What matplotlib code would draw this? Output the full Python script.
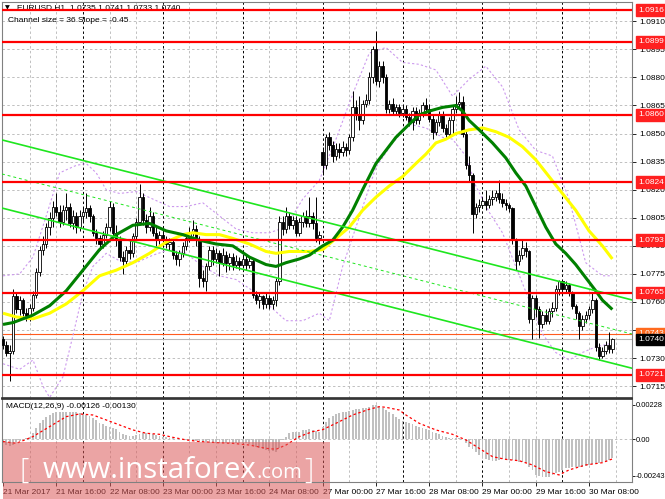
import matplotlib
matplotlib.use("Agg")
import matplotlib.pyplot as plt
import matplotlib.transforms as mtransforms
from matplotlib.patches import Rectangle
import numpy as np

plt.rcParams['font.family'] = ['Liberation Sans', 'DejaVu Sans']

# ---------------- data ----------------
opens = [1.0740,1.0737,1.0733,1.0734,1.0763,1.0756,1.0761,1.0754,1.0752,1.0757,
         1.0764,1.0776,1.0788,1.0791,1.0800,1.0805,1.0811,1.0808,1.0803,1.0809,
         1.0811,1.0802,1.0806,1.0800,1.0806,1.0808,1.0810,1.0806,1.0797,1.0794,
         1.0791,1.0796,1.0800,1.0811,1.0797,1.0793,1.0784,1.0782,1.0788,1.0786,
         1.0795,1.0803,1.0816,1.0804,1.0800,1.0806,1.0797,1.0793,1.0796,1.0793,
         1.0791,1.0792,1.0785,1.0783,1.0786,1.0790,1.0794,1.0797,1.0799,1.0793,
         1.0773,1.0771,1.0779,1.0788,1.0783,1.0786,1.0781,1.0785,1.0781,1.0784,
         1.0780,1.0782,1.0780,1.0783,1.0780,1.0782,1.0764,1.0761,1.0763,1.0759,
         1.0762,1.0759,1.0761,1.0771,1.0803,1.0799,1.0806,1.0801,1.0804,1.0797,
         1.0803,1.0806,1.0802,1.0806,1.0802,1.0794,1.0840,1.0833,1.0848,1.0844,
         1.0838,1.0842,1.0840,1.0843,1.0841,1.0848,1.0864,1.0860,1.0857,1.0866,
         1.0868,1.0880,1.0895,1.0878,1.0886,1.0880,1.0863,1.0866,1.0862,1.0864,
         1.0861,1.0863,1.0859,1.0856,1.0862,1.0857,1.0861,1.0865,1.0863,1.0858,
         1.0851,1.0856,1.0860,1.0853,1.0850,1.0857,1.0863,1.0866,1.0867,1.0850,
         1.0833,1.0828,1.0807,1.0811,1.0812,1.0814,1.0812,1.0815,1.0816,1.0818,
         1.0815,1.0813,1.0812,1.0810,1.0793,1.0782,1.0785,1.0789,1.0787,1.0751,
         1.0762,1.0756,1.0748,1.0753,1.0750,1.0755,1.0757,1.0767,1.0771,1.0767,
         1.0769,1.0765,1.0758,1.0754,1.0747,1.0751,1.0753,1.0756,1.0761,1.0736,
         1.0731,1.0734,1.0737,1.0735]
highs = [1.0742,1.0739,1.0737,1.0767,1.0765,1.0763,1.0762,1.0757,1.0759,1.0766,
         1.0778,1.0790,1.0795,1.0802,1.0808,1.0814,1.0818,1.0812,1.0812,1.0818,
         1.0813,1.0809,1.0808,1.0809,1.0811,1.0818,1.0812,1.0807,1.0799,1.0796,
         1.0798,1.0802,1.0814,1.0813,1.0801,1.0795,1.0787,1.0790,1.0793,1.0797,
         1.0805,1.0823,1.0818,1.0807,1.0811,1.0808,1.0800,1.0798,1.0798,1.0795,
         1.0794,1.0793,1.0787,1.0788,1.0792,1.0796,1.0800,1.0804,1.0801,1.0795,
         1.0777,1.0781,1.0790,1.0790,1.0789,1.0788,1.0789,1.0787,1.0786,1.0786,
         1.0785,1.0784,1.0785,1.0785,1.0784,1.0783,1.0766,1.0765,1.0764,1.0765,
         1.0764,1.0763,1.0773,1.0806,1.0806,1.0811,1.0808,1.0806,1.0806,1.0805,
         1.0808,1.0809,1.0816,1.0808,1.0816,1.0798,1.0843,1.0850,1.0851,1.0846,
         1.0845,1.0845,1.0846,1.0845,1.0850,1.0873,1.0868,1.0870,1.0868,1.0871,
         1.0883,1.0897,1.0905,1.0889,1.0889,1.0882,1.0868,1.0869,1.0866,1.0866,
         1.0865,1.0865,1.0861,1.0864,1.0864,1.0863,1.0867,1.0869,1.0866,1.0860,
         1.0858,1.0862,1.0862,1.0855,1.0859,1.0865,1.0870,1.0872,1.0870,1.0852,
         1.0838,1.0829,1.0813,1.0815,1.0816,1.0820,1.0817,1.0820,1.0820,1.0825,
         1.0818,1.0815,1.0813,1.0811,1.0794,1.0788,1.0793,1.0792,1.0788,1.0764,
         1.0764,1.0758,1.0755,1.0756,1.0757,1.0760,1.0769,1.0772,1.0772,1.0771,
         1.0770,1.0766,1.0759,1.0755,1.0753,1.0755,1.0758,1.0765,1.0762,1.0738,
         1.0736,1.0739,1.0744,1.0741]
lows = [1.0735,1.0731,1.0718,1.0732,1.0754,1.0753,1.0751,1.0750,1.0750,1.0755,
        1.0762,1.0774,1.0785,1.0789,1.0796,1.0800,1.0806,1.0800,1.0801,1.0804,
        1.0800,1.0799,1.0797,1.0798,1.0803,1.0805,1.0803,1.0795,1.0791,1.0788,
        1.0789,1.0794,1.0798,1.0795,1.0790,1.0782,1.0775,1.0780,1.0783,1.0784,
        1.0793,1.0801,1.0801,1.0797,1.0798,1.0795,1.0790,1.0791,1.0790,1.0789,
        1.0788,1.0783,1.0780,1.0779,1.0784,1.0788,1.0792,1.0795,1.0790,1.0768,
        1.0768,1.0766,1.0777,1.0780,1.0781,1.0774,1.0779,1.0776,1.0777,1.0777,
        1.0778,1.0777,1.0778,1.0777,1.0778,1.0762,1.0759,1.0757,1.0756,1.0757,
        1.0756,1.0756,1.0758,1.0769,1.0796,1.0797,1.0799,1.0799,1.0795,1.0795,
        1.0800,1.0800,1.0800,1.0799,1.0792,1.0791,1.0828,1.0831,1.0841,1.0835,
        1.0836,1.0837,1.0838,1.0838,1.0839,1.0846,1.0857,1.0852,1.0855,1.0864,
        1.0866,1.0877,1.0876,1.0875,1.0877,1.0861,1.0861,1.0860,1.0860,1.0859,
        1.0859,1.0857,1.0854,1.0852,1.0855,1.0855,1.0859,1.0861,1.0856,1.0847,
        1.0849,1.0854,1.0851,1.0847,1.0848,1.0850,1.0861,1.0863,1.0848,1.0831,
        1.0824,1.0797,1.0805,1.0808,1.0810,1.0809,1.0810,1.0812,1.0814,1.0813,
        1.0811,1.0809,1.0808,1.0791,1.0777,1.0780,1.0783,1.0784,1.0749,1.0740,
        1.0752,1.0741,1.0746,1.0748,1.0748,1.0752,1.0755,1.0764,1.0765,1.0765,
        1.0763,1.0756,1.0751,1.0740,1.0745,1.0749,1.0751,1.0754,1.0734,1.0729,
        1.0730,1.0732,1.0733,1.0733]
closes = [1.0737,1.0733,1.0734,1.0763,1.0756,1.0761,1.0754,1.0752,1.0757,1.0764,
          1.0776,1.0788,1.0791,1.0800,1.0805,1.0811,1.0808,1.0803,1.0809,1.0811,
          1.0802,1.0806,1.0800,1.0806,1.0808,1.0810,1.0806,1.0797,1.0794,1.0791,
          1.0796,1.0800,1.0811,1.0797,1.0793,1.0784,1.0782,1.0788,1.0786,1.0795,
          1.0803,1.0816,1.0804,1.0800,1.0806,1.0797,1.0793,1.0796,1.0793,1.0791,
          1.0792,1.0785,1.0783,1.0786,1.0790,1.0794,1.0797,1.0799,1.0793,1.0773,
          1.0771,1.0779,1.0788,1.0783,1.0786,1.0781,1.0785,1.0781,1.0784,1.0780,
          1.0782,1.0780,1.0783,1.0780,1.0782,1.0764,1.0761,1.0763,1.0759,1.0762,
          1.0759,1.0761,1.0771,1.0803,1.0799,1.0806,1.0801,1.0804,1.0797,1.0803,
          1.0806,1.0802,1.0806,1.0802,1.0794,1.0796,1.0833,1.0848,1.0844,1.0838,
          1.0842,1.0840,1.0843,1.0841,1.0848,1.0864,1.0860,1.0857,1.0866,1.0868,
          1.0880,1.0895,1.0878,1.0886,1.0880,1.0863,1.0866,1.0862,1.0864,1.0861,
          1.0863,1.0859,1.0856,1.0862,1.0857,1.0861,1.0865,1.0863,1.0858,1.0851,
          1.0856,1.0860,1.0853,1.0850,1.0857,1.0863,1.0866,1.0867,1.0850,1.0833,
          1.0828,1.0807,1.0811,1.0812,1.0814,1.0812,1.0815,1.0816,1.0818,1.0815,
          1.0813,1.0812,1.0810,1.0793,1.0782,1.0785,1.0789,1.0787,1.0751,1.0762,
          1.0756,1.0748,1.0753,1.0750,1.0755,1.0757,1.0767,1.0771,1.0767,1.0769,
          1.0765,1.0758,1.0754,1.0747,1.0751,1.0753,1.0756,1.0761,1.0736,1.0731,
          1.0734,1.0737,1.0735,1.0740]

green_ma_x = [0,3,9,14,19,24,29,34,39,44,49,54,59,64,69,74,79,82,85,89,92,96,99,102,105,108,110,
              112,115,118,122,125,128,132,136,138,140,143,147,151,154,157,160,163,166,169,172,175,178,180,183]
green_ma = [1.0748,1.0749,1.0753,1.0758,1.0766,1.0777,1.0788,1.0796,1.0801,1.0802,1.0798,1.0796,
            1.0793,1.0791,1.0790,1.0784,1.0780,1.0779,1.0781,1.0783,1.0785,1.0790,1.0793,1.0800,
            1.0809,1.0820,1.0827,1.0834,1.0841,1.0848,1.0855,1.0860,1.0862,1.0864,1.0865,1.0862,
            1.0857,1.0852,1.0845,1.0837,1.0829,1.0822,1.0811,1.0800,1.0791,1.0786,1.0780,1.0773,
            1.0766,1.0761,1.0756]
yellow_ma_x = [0,4,9,14,19,24,29,34,39,44,49,54,57,61,65,69,74,79,82,86,92,96,100,104,108,112,116,
               120,124,127,130,133,136,140,144,148,152,156,160,164,168,172,176,180,183]
yellow_ma = [1.0754,1.0752,1.0751,1.0754,1.0759,1.0766,1.0774,1.0777,1.0781,1.0786,1.0792,1.0796,
             1.0797,1.0796,1.0796,1.0794,1.0791,1.0787,1.0786,1.0787,1.0787,1.0788,1.0794,1.0800,
             1.0809,1.0816,1.0822,1.0827,1.0834,1.0839,1.0845,1.0847,1.0850,1.0852,1.0853,1.0851,
             1.0848,1.0843,1.0836,1.0827,1.0818,1.0809,1.0798,1.0790,1.0783]

band_up_x = [0,5,9,13,17,22,25,28,31,35,40,45,50,55,60,65,70,75,80,85,90,95,100,105,110,115,120,
             125,130,135,140,145,150,155,160,165,170,175,180,183]
band_up = [1.0774,1.0775,1.0784,1.0806,1.0829,1.0833,1.0834,1.0829,1.0820,1.0818,1.0819,1.0815,
           1.0811,1.0811,1.0813,1.0806,1.0799,1.0797,1.0797,1.0800,1.0815,1.0825,1.0847,1.0871,
           1.0893,1.0896,1.0888,1.0887,1.0884,1.0870,1.0879,1.0886,1.0875,1.0852,1.0841,1.0838,
           1.0815,1.0781,1.0774,1.0774]
band_lo_x = [0,5,9,12,14,18,21,24,27,31,35,40,45,50,55,60,65,70,75,80,85,90,95,98,102,106,112,117,
             122,127,132,135,139,142,146,150,154,158,162,166,170,174,178,183]
band_lo = [1.0727,1.0724,1.0729,1.0715,1.0709,1.0720,1.0742,1.0765,1.0779,1.0786,1.0782,1.0781,
           1.0785,1.0788,1.0786,1.0779,1.0774,1.0772,1.0766,1.0758,1.0750,1.0750,1.0754,1.0750,
           1.0779,1.0800,1.0832,1.0845,1.0855,1.0853,1.0848,1.0847,1.0838,1.0822,1.0808,1.0797,
           1.0779,1.0761,1.0743,1.0733,1.0729,1.0733,1.0736,1.0738]

channel_x = [-0.3, 188.9]
channel_upper = [1.08466, 1.07611]
channel_middle = [1.08284, 1.07429]
channel_lower = [1.08102, 1.07246]

levels = [1.0916, 1.0899, 1.0860, 1.0824, 1.0793, 1.0765, 1.0721]
level_labels = ["1.0916", "1.0899", "1.0860", "1.0824", "1.0793", "1.0765", "1.0721"]
price_ticks = [1.0910, 1.0895, 1.0880, 1.0865, 1.0850, 1.0835, 1.0820, 1.0805,
               1.0790, 1.0775, 1.0760, 1.0745, 1.0730, 1.0715]
price_tick_labels = ["1.0910", "1.0895", "1.0880", "1.0865", "1.0850", "1.0835", "1.0820",
                     "1.0805", "1.0790", "1.0775", "1.0760", "1.0745", "1.0730", "1.0715"]
bid_price = 1.0740
ask_level = 1.0743

macd_hist_e5 = [-27,-38,-44,-38,-15,-10,4,10,18,40,73,106,128,146,161,172,180,183,184,184,
                183,183,180,177,170,163,155,142,128,110,100,88,82,75,66,48,36,26,22,24,
                29,38,44,44,40,33,29,22,18,12,9,7,2,0,-3,-5,-8,-10,-12,-15,
                -17,-20,-22,-24,-27,-22,-24,-25,-27,-25,-24,-27,-22,-25,-30,-38,-49,-58,-66,-71,
                -75,-80,-82,-60,-4,18,44,48,46,51,62,64,66,62,55,51,84,117,139,155,
                168,177,181,183,190,194,199,203,206,208,212,228,230,221,206,194,183,168,150,133,
                121,113,106,99,90,79,73,66,62,51,40,33,24,18,11,7,11,7,0,-27,
                -49,-66,-82,-104,-122,-133,-137,-142,-142,-137,-133,-133,-137,-137,-142,-148,-153,-159,-181,-203,
                -236,-243,-252,-252,-247,-236,-225,-214,-203,-192,-188,-186,-186,-186,-181,-177,-170,-164,-159,-155,
                -150,-148,-135,-126]
signal_x = [0,4,9,14,19,23,27,31,35,39,43,47,51,55,59,64,69,74,79,82,85,89,93,96,100,105,110,
            113,115,119,121,125,130,135,139,143,147,151,155,159,163,167,170,175,180,183]
signal_e5 = [-15,-27,18,84,150,168,161,128,95,62,40,33,13,-4,-15,-22,-27,-38,-60,-66,-38,18,51,
             64,106,161,199,216,212,194,161,106,62,33,-4,-60,-115,-133,-142,-170,-214,-236,-203,
             -170,-155,-130]
macd_ticks = [0.00228, 0.0, -0.00243]
macd_tick_labels = ["0.00228", "0.00", "-0.00243"]

time_tick_bars = [0, 16, 32, 48, 64, 80, 96, 112, 128, 144, 160, 176]
time_tick_labels = ["21 Mar 2017", "21 Mar 16:00", "22 Mar 08:00", "23 Mar 00:00",
                    "23 Mar 16:00", "24 Mar 08:00", "27 Mar 00:00", "27 Mar 16:00",
                    "28 Mar 08:00", "29 Mar 00:00", "29 Mar 16:00", "30 Mar 08:00"]

# ---------------- figure ----------------
W, H = 665, 499
fig = plt.figure(figsize=(W / 100, H / 100), dpi=100)
fig.patch.set_facecolor("white")

def fx(px):
    return px / W

def fy(py):
    return 1 - py / H

ax = fig.add_axes([fx(2), fy(398), fx(632) - fx(2), fy(2) - fy(398)])
axm = fig.add_axes([fx(2), fy(482), fx(632) - fx(2), fy(399) - fy(482)], sharex=ax)

n = len(closes)
x = np.arange(n)
o = np.array(opens); h = np.array(highs); l = np.array(lows); c = np.array(closes)

XMIN, XMAX = -0.3, 188.9
ax.set_xlim(XMIN, XMAX)
ax.set_ylim(1.07087, 1.09203)
axm.set_ylim(-0.00283, 0.00267)

grey = "#c0c0c0"
for a in (ax, axm):
    for b in range(8, int(XMAX) + 1, 8):
        if b % 24 == 0:
            a.axvline(b, color="black", lw=0.7, ls=(0, (2.5, 2.5)), zorder=0.6)
        else:
            a.axvline(b, color=grey, lw=0.7, ls=(0, (2.5, 2.5)), zorder=0.5)
for t in price_ticks:
    ax.axhline(t, color=grey, lw=0.7, ls=(0, (2.5, 2.5)), zorder=0.5)
axm.axhline(0, color=grey, lw=0.7, ls=(0, (2.5, 2.5)), zorder=0.5)

# bid / ask lines
ax.axhline(bid_price, color="#b8b8b8", lw=0.8, zorder=1)
ax.axhline(ask_level, color="#ff5a1e", lw=0.8, zorder=1)

# bands
ax.plot(band_up_x, band_up, color="#cc99ee", lw=0.8, ls=(0, (2, 2)), zorder=1.5)
ax.plot(band_lo_x, band_lo, color="#cc99ee", lw=0.8, ls=(0, (2, 2)), zorder=1.5)

# candles
up = c >= o
ax.vlines(x, l, h, color="black", lw=0.7, zorder=3)
body_lo = np.minimum(o, c)
body_h = np.maximum(np.abs(c - o), 0.00004)
ax.bar(x[up], body_h[up], bottom=body_lo[up], width=0.72, color="white",
       edgecolor="black", linewidth=0.6, zorder=3.2)
ax.bar(x[~up], body_h[~up], bottom=body_lo[~up], width=0.72, color="black",
       edgecolor="black", linewidth=0.6, zorder=3.2)

# moving averages
ax.plot(yellow_ma_x, yellow_ma, color="#ffff00", lw=2.2, zorder=4, solid_capstyle="butt")
ax.plot(green_ma_x, green_ma, color="#008000", lw=2.2, zorder=4.1, solid_capstyle="butt")

# channel
ax.plot(channel_x, channel_upper, color="#1ee61e", lw=1.2, zorder=5)
ax.plot(channel_x, channel_lower, color="#1ee61e", lw=1.2, zorder=5)
ax.plot(channel_x, channel_middle, color="#1ee61e", lw=0.7, ls=(0, (3, 3)), zorder=5)

# horizontal levels
for lv in levels:
    ax.axhline(lv, color="#ff0000", lw=1.6, zorder=5.5)

# header text (under the level lines)
ax.text(fx(5), fy(8), "\u25bc", transform=fig.transFigure, fontsize=4.5, va="center",
        ha="left", zorder=5, family=["DejaVu Sans"])
ax.text(fx(17), fy(8), "EURUSD,H1  1.0735 1.0741 1.0733 1.0740", transform=fig.transFigure,
        fontsize=6, va="center", ha="left", zorder=5)
ax.text(fx(8), fy(20), "Channel size = 36 Slope = -0.45", transform=fig.transFigure,
        fontsize=6, va="center", ha="left", zorder=5)

# axes styling
for a in (ax, axm):
    for s in a.spines.values():
        s.set_color("#808080")
        s.set_linewidth(0.8)
ax.spines["bottom"].set_color("#303030")
ax.spines["bottom"].set_linewidth(1.2)
axm.spines["top"].set_color("#303030")
axm.spines["top"].set_linewidth(1.2)

ax.yaxis.tick_right()
ax.set_yticks(price_ticks)
ax.set_yticklabels(price_tick_labels)
ax.tick_params(axis="y", direction="out", length=3, width=0.6, pad=2, labelsize=6, colors="black")
ax.tick_params(axis="x", bottom=False, labelbottom=False)

axm.yaxis.tick_right()
axm.set_yticks(macd_ticks)
axm.set_yticklabels(macd_tick_labels)
axm.tick_params(axis="y", direction="out", length=2, width=0.6, pad=1, labelsize=5.4)
axm.set_xticks(time_tick_bars)
axm.set_xticklabels(time_tick_labels, ha="left")
axm.tick_params(axis="x", direction="out", length=3, width=0.6, pad=2, labelsize=6)

# level boxes on the right
tr = mtransforms.blended_transform_factory(ax.transAxes, ax.transData)
for lv, lab in zip(levels, level_labels):
    ax.text(1.0095, lv, lab, transform=tr, fontsize=6, color="white", va="center", ha="left",
            clip_on=False, zorder=10,
            bbox=dict(boxstyle="square,pad=0.28", fc="#ff2020", ec="#ff2020"))
ax.text(1.0095, ask_level, "1.0743", transform=tr, fontsize=6, color="white", va="center",
        ha="left", clip_on=False, zorder=10,
        bbox=dict(boxstyle="square,pad=0.28", fc="#ff6a1e", ec="#ff6a1e"))
ax.text(1.0095, bid_price, "1.0740", transform=tr, fontsize=6, color="white", va="center",
        ha="left", clip_on=False, zorder=11,
        bbox=dict(boxstyle="square,pad=0.28", fc="black", ec="black"))

# MACD
hist = np.array(macd_hist_e5) * 1e-5
axm.bar(x, hist, width=0.55, color="#c0c0c0", zorder=1)
axm.plot(signal_x, np.array(signal_e5) * 1e-5, color="red", lw=0.9, ls=(0, (2, 2)), zorder=2)
axm.text(fx(6), fy(407), "MACD(12,26,9) -0.00126 -0.00130", transform=fig.transFigure,
         fontsize=6, va="center", ha="left", zorder=3)

# watermark
axm.add_patch(Rectangle((fx(3), fy(499)), fx(330) - fx(3), fy(442) - fy(499),
                        transform=fig.transFigure, fc="#dc5a5a", ec="none", alpha=0.55,
                        zorder=2.45, clip_on=False))
wm = dict(color="white", va="baseline", ha="left", family=["Open Sans", "DejaVu Sans"])
fig.text(fx(20), fy(479), "[", fontsize=21, weight="light", **wm)
fig.text(fx(43), fy(478), "www.instaforex", fontsize=21.2, **wm)
fig.text(fx(256), fy(478), ".com", fontsize=14.5, **wm)
fig.text(fx(304), fy(479), "]", fontsize=21, weight="light", **wm)

fig.savefig("out.png", dpi=100, facecolor="white")
